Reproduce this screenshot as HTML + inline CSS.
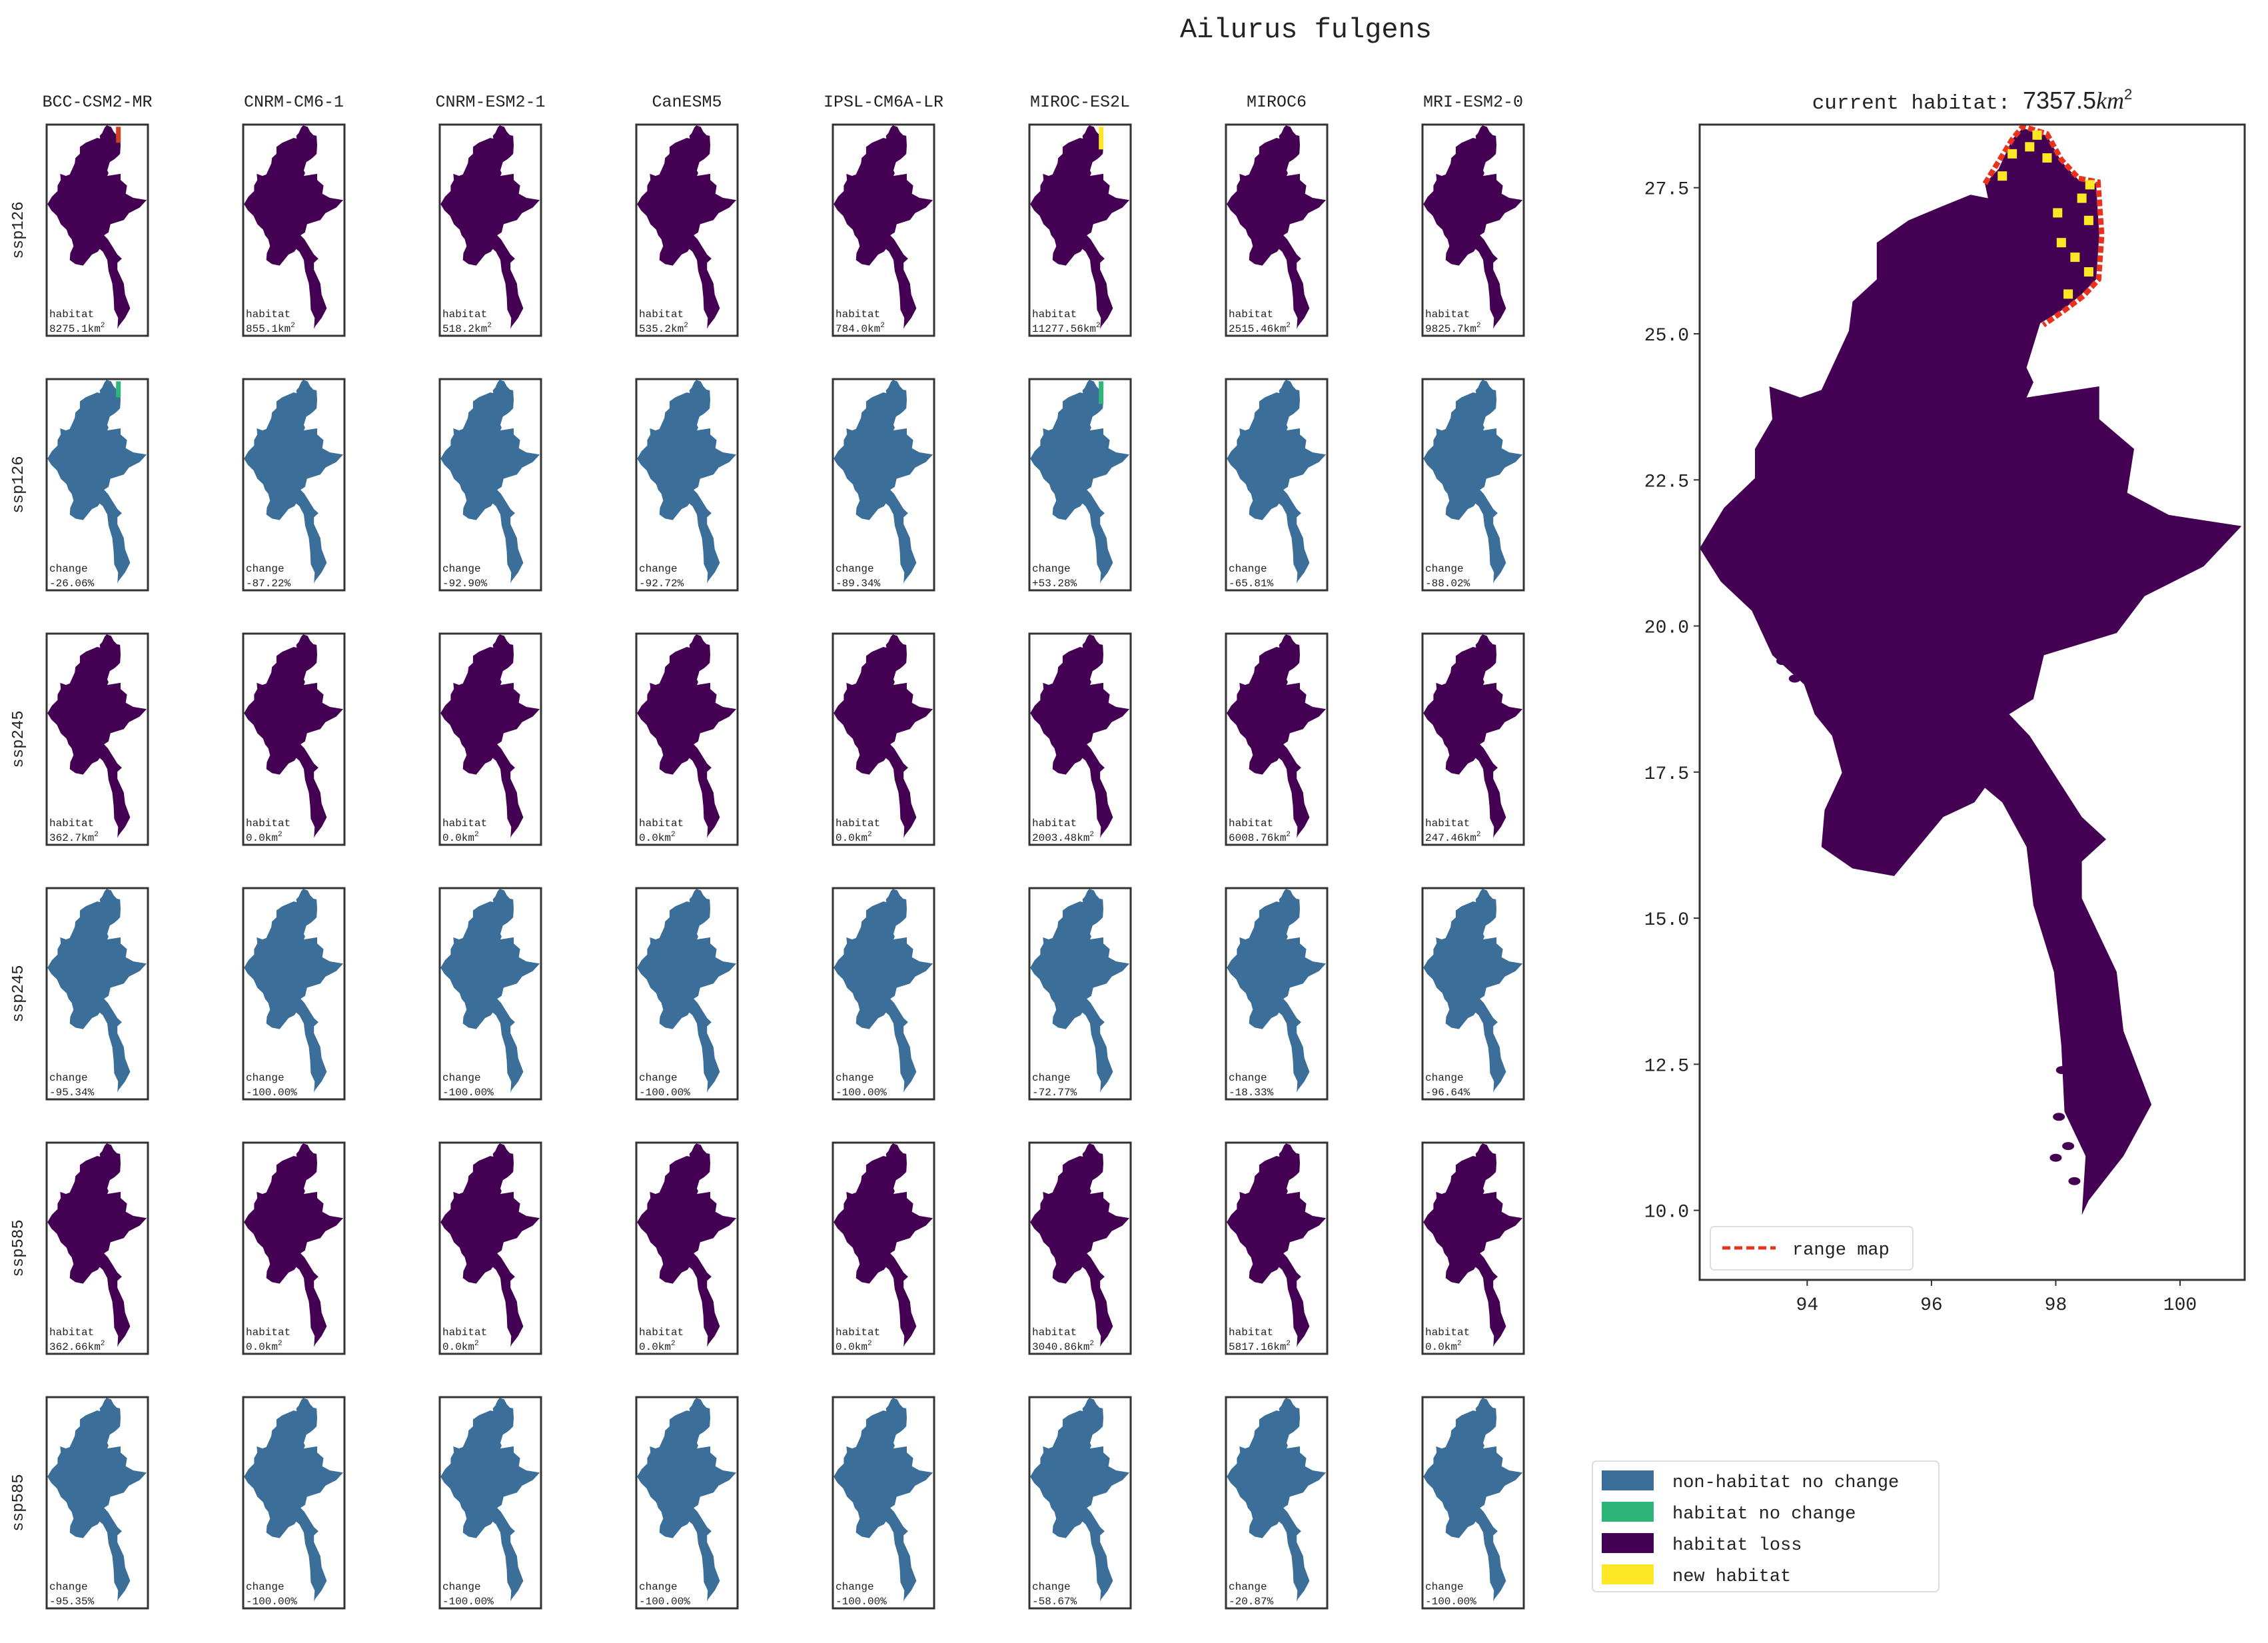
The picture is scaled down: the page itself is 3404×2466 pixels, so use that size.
<!DOCTYPE html>
<html><head><meta charset="utf-8">
<style>
html,body{margin:0;padding:0;background:#fff;}
svg{display:block;font-family:"Liberation Mono","DejaVu Sans Mono",monospace;}
</style></head>
<body>
<svg id="fig" width="3404" height="2466" viewBox="0 0 3404 2466" xmlns="http://www.w3.org/2000/svg">
<text x="1960" y="56" font-size="42" text-anchor="middle" fill="#222">Ailurus fulgens</text>
<g id="grid"></g>
<g id="big"></g>
<g id="legend"></g>
</svg>
<script>
const models = ["BCC-CSM2-MR","CNRM-CM6-1","CNRM-ESM2-1","CanESM5","IPSL-CM6A-LR","MIROC-ES2L","MIROC6","MRI-ESM2-0"];
const scenarios = ["ssp126","ssp126","ssp245","ssp245","ssp585","ssp585"];
const rowKinds = ["habitat","change","habitat","change","habitat","change"];
const habitat126 = ["8275.1","855.1","518.2","535.2","784.0","11277.56","2515.46","9825.7"];
const change126 = ["-26.06%","-87.22%","-92.90%","-92.72%","-89.34%","+53.28%","-65.81%","-88.02%"];
const habitat245 = ["362.7","0.0","0.0","0.0","0.0","2003.48","6008.76","247.46"];
const change245 = ["-95.34%","-100.00%","-100.00%","-100.00%","-100.00%","-72.77%","-18.33%","-96.64%"];
const habitat585 = ["362.66","0.0","0.0","0.0","0.0","3040.86","5817.16","0.0"];
const change585 = ["-95.35%","-100.00%","-100.00%","-100.00%","-100.00%","-58.67%","-20.87%","-100.00%"];
const rowValues = [habitat126, change126, habitat245, change245, habitat585, change585];
const currentHabitat = "7357.5";
const xTicks = [94, 96, 98, 100];
const yTicks = [10.0, 12.5, 15.0, 17.5, 20.0, 22.5, 25.0, 27.5];
const legendLabels = ["non-habitat no change","habitat no change","habitat loss","new habitat"];
const legendColors = ["#3b6e99","#2fb57a","#440154","#fde725"];
// Myanmar outline (lon, lat)
const outline = [[97.47,28.52],[97.86,28.39],[98.09,27.95],[98.37,27.63],[98.65,27.57],[98.70,26.69],[98.65,25.93],[98.42,25.68],[98.14,25.43],[97.75,25.18],[97.64,24.80],[97.53,24.42],[97.64,24.17],[97.53,23.91],[98.70,24.10],[98.70,23.54],[99.26,23.03],[99.15,22.28],[99.82,21.90],[100.99,21.71],[100.38,21.02],[99.43,20.51],[98.98,19.88],[97.81,19.50],[97.64,18.75],[97.25,18.49],[97.58,18.12],[98.42,16.73],[98.81,16.35],[98.42,15.97],[98.42,15.34],[98.98,14.08],[99.09,13.07],[99.54,11.81],[99.09,10.93],[98.53,10.17],[98.42,9.92],[98.48,10.93],[98.14,11.69],[98.09,12.82],[97.97,14.08],[97.64,15.22],[97.53,16.22],[97.14,16.98],[96.86,17.23],[96.69,16.98],[96.19,16.73],[95.40,15.72],[94.73,15.85],[94.23,16.22],[94.28,16.85],[94.56,17.49],[94.40,18.12],[94.12,18.49],[93.95,19.00],[93.44,19.50],[93.11,20.26],[92.61,20.76],[92.27,21.33],[92.66,22.02],[93.16,22.53],[93.16,23.03],[93.44,23.54],[93.39,24.10],[93.89,23.91],[94.23,24.04],[94.67,25.05],[94.73,25.55],[95.12,25.93],[95.12,26.56],[95.63,26.94],[96.19,27.19],[96.63,27.38],[96.91,27.32],[96.86,27.57],[97.08,27.82],[97.30,28.33]];
// islands (lon, lat)
const islands = [[98.10,12.40],[98.30,12.00],[98.05,11.60],[98.40,11.40],[98.20,11.10],[98.30,10.50],[98.00,10.90],[93.60,19.40],[93.80,19.10]];
// current habitat cells (lon, lat)
const habitatCells = [[97.30,28.08],[97.58,28.20],[97.86,28.01],[97.14,27.70],[98.03,27.07],[98.42,27.32],[98.53,26.94],[98.31,26.31],[98.53,26.06],[98.20,25.68],[98.09,26.56],[97.70,28.40],[98.55,27.55]];
const rangeLine = [[96.86,27.57],[97.30,28.33],[97.47,28.55],[97.86,28.42],[98.09,27.98],[98.37,27.66],[98.68,27.60],[98.74,26.69],[98.69,25.93],[98.45,25.65],[98.14,25.40],[97.80,25.15]];

const NS = "http://www.w3.org/2000/svg";
function mk(tag, attrs, parent){const e=document.createElementNS(NS,tag);for(const k in attrs)e.setAttribute(k,attrs[k]);parent.appendChild(e);return e;}

// small panels
const grid = document.getElementById('grid');
const bx0=70, bw=152, bdx=295, by0=187, bh=317, bdy=382;
const sLon0=92.2, sLon1=101.1, sLat0=9.3, sLat1=28.6;
const sx=(c,v)=>bx0+c*bdx+(v-sLon0)/(sLon1-sLon0)*bw;
const sy=(r,v)=>by0+r*bdy+(sLat1-v)/(sLat1-sLat0)*bh;
function smallPath(c,r){
  return outline.map((p,i)=>(i?'L':'M')+sx(c,p[0]).toFixed(1)+','+sy(r,p[1]).toFixed(1)).join('')+'Z';
}
models.forEach((m,c)=>{
  const t=mk('text',{x:bx0+c*bdx+bw/2,y:160,'font-size':25,'text-anchor':'middle',fill:'#222'},grid);
  
  
  t.textContent=m;
});
scenarios.forEach((s,r)=>{
  const cy=by0+r*bdy+bh/2;
  const t=mk('text',{x:0,y:0,'font-size':24,'text-anchor':'middle',fill:'#222',transform:`translate(34,${cy}) rotate(-90)`},grid);
  
  
  t.textContent=s;
  models.forEach((m,c)=>{
    const ox=bx0+c*bdx, oy=by0+r*bdy;
    const g=mk('g',{},grid);
    
    
    const fill = rowKinds[r]==='habitat' ? '#440154' : '#3b6e99';
    const p=mk('path',{d:smallPath(c,r),fill:fill},g);
    
    
    if((r===1&&(c===0||c===5))||(r===0&&(c===0||c===5))){
      const col = r===1 ? '#2fb57a' : (c===5?'#fde725':'#d04020');
      const q=mk('rect',{x:sx(c,98.3),y:sy(r,28.4),width:7,height:c===5?34:24,fill:col},g);
      
      
    }
    const b=mk('rect',{x:ox,y:oy,width:bw,height:bh,fill:'none',stroke:'#333','stroke-width':3},g);
    
    
    const t1=mk('text',{x:ox+4,y:oy+bh-28,'font-size':16,fill:'#222'},g);
    
    
    t1.textContent=rowKinds[r];
    const t2=mk('text',{x:ox+4,y:oy+bh-6,'font-size':16,fill:'#222'},g);
    
    
    if(rowKinds[r]==='habitat'){t2.textContent=rowValues[r][c]+'km';const sp=mk('tspan',{dy:-7,'font-size':11},t2);sp.textContent='2';}
    else t2.textContent=rowValues[r][c];
  });
});

// big map
const big=document.getElementById('big');
const ax0=2551, ax1=3369, ay0=187, ay1=1921;
const lonMin=92.27, lonMax=101.04, latMin=8.81, latMax=28.58;
const X=v=>ax0+(v-lonMin)/(lonMax-lonMin)*(ax1-ax0);
const Y=v=>ay0+(latMax-v)/(latMax-latMin)*(ay1-ay0);
const bt=mk('text',{x:(ax0+ax1)/2,y:163,'font-size':31,'text-anchor':'middle',fill:'#222'},big);


bt.textContent='current habitat: ';
const bt2=mk('tspan',{'font-family':'Liberation Sans, sans-serif','font-size':36},bt);bt2.textContent=currentHabitat;
const bt3=mk('tspan',{'font-family':'Liberation Serif, serif','font-style':'italic','font-size':36},bt);bt3.textContent='km';
const bt4=mk('tspan',{dy:-14,'font-size':22,'font-family':'Liberation Sans, sans-serif'},bt);bt4.textContent='2';
const bm=mk('path',{d:outline.map((p,i)=>(i?'L':'M')+X(p[0]).toFixed(1)+','+Y(p[1]).toFixed(1)).join('')+'Z',fill:'#440154'},big);


islands.forEach(p=>{
  const q=mk('ellipse',{cx:X(p[0]),cy:Y(p[1]),rx:9,ry:6,fill:'#440154'},big);
  
  
});
const rl=mk('path',{d:rangeLine.map((p,i)=>(i?'L':'M')+X(p[0]).toFixed(1)+','+Y(p[1]).toFixed(1)).join(''),fill:'none',stroke:'#e8321e','stroke-width':8,'stroke-dasharray':'10,4'},big);


habitatCells.forEach(p=>{
  const q=mk('rect',{x:X(p[0])-7,y:Y(p[1])-7,width:14,height:14,fill:'#fde725'},big);
  
  
});
const fr=mk('rect',{x:ax0,y:ay0,width:ax1-ax0,height:ay1-ay0,fill:'none',stroke:'#333','stroke-width':3},big);


xTicks.forEach(v=>{
  const l=mk('line',{x1:X(v),x2:X(v),y1:ay1,y2:ay1+9,stroke:'#333','stroke-width':2},big);
  
  
  const t=mk('text',{x:X(v),y:ay1+45,'font-size':28,'text-anchor':'middle',fill:'#222'},big);
  
  
  t.textContent=v;
});
yTicks.forEach(v=>{
  const l=mk('line',{x1:ax0-9,x2:ax0,y1:Y(v),y2:Y(v),stroke:'#333','stroke-width':2},big);
  
  
  const t=mk('text',{x:ax0-16,y:Y(v)+10,'font-size':28,'text-anchor':'end',fill:'#222'},big);
  
  
  t.textContent=v.toFixed(1);
});
const lb=mk('rect',{x:2567,y:1841,width:304,height:65,rx:6,fill:'#fff',stroke:'#ddd','stroke-width':2},big);


const ll=mk('line',{x1:2585,x2:2665,y1:1873,y2:1873,stroke:'#e8321e','stroke-width':5,'stroke-dasharray':'12,6'},big);


const lt=mk('text',{x:2690,y:1883,'font-size':27,fill:'#222'},big);


lt.textContent='range map';

// class legend
const lg=document.getElementById('legend');
const lbx=mk('rect',{x:2390,y:2193,width:520,height:196,rx:6,fill:'#fff',stroke:'#ddd','stroke-width':2},lg);


legendLabels.forEach((s,i)=>{
  const y=2207+i*47;
  const r=mk('rect',{x:2404,y:y,width:78,height:30,fill:legendColors[i]},lg);
  
  
  const t=mk('text',{x:2510,y:y+25,'font-size':27,fill:'#222'},lg);
  
  
  t.textContent=s;
});
</script>
</body></html>
